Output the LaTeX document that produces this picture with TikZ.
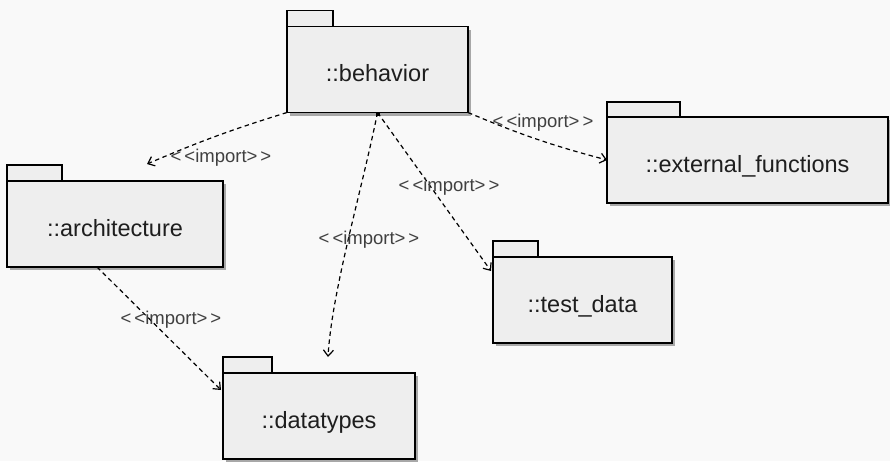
\documentclass[tikz,border=0pt]{standalone}
\usepackage{fontspec}
\setmainfont{Liberation Sans}
\usetikzlibrary{arrows.meta,shadows}
\definecolor{canvas}{HTML}{F9F9F9}
\definecolor{pkgfill}{HTML}{EEEEEE}
\definecolor{shade}{HTML}{A8A8A8}
\definecolor{ink}{HTML}{1E1E1E}
\begin{document}
\begin{tikzpicture}[x=1pt,y=-1pt,
  pkgbody/.style={draw=black, line width=1.6pt, fill=pkgfill, outer sep=0pt,
    drop shadow={shadow xshift=3pt, shadow yshift=-3pt, fill=shade, opacity=1},
    inner sep=0pt, minimum height=86pt, text height=24pt, text depth=0pt,
    font=\fontsize{23.5}{28}\selectfont, text=ink},
  pkgtab/.style={draw=black, line width=1.6pt, fill=pkgfill, outer sep=0pt,
    inner sep=0pt, minimum height=16pt, anchor=south west},
  dep/.style={line width=1.2pt, dash pattern=on 4.5pt off 3.5pt,
    -{Straight Barb[length=6pt,width=10pt]}},
  stereo/.style={font=\fontsize{18.5}{20}\selectfont, text=black!75, inner sep=0pt}]

% canvas
\fill[canvas] (0,0) rectangle (890,461);
\useasboundingbox (0,0) rectangle (890,461);

% packages
\node[pkgbody, minimum width=181pt] (beh) at (377.5,69.5) {::behavior};
\node[pkgtab, minimum width=46pt] (behtab) at (beh.north west) {};

\node[pkgbody, minimum width=216pt] (arch) at (115,224) {::architecture};
\node[pkgtab, minimum width=55pt] (archtab) at (arch.north west) {};

\node[pkgbody, minimum width=281pt] (ext) at (747.5,160) {::external\_functions};
\node[pkgtab, minimum width=73pt, minimum height=15pt] (exttab) at (ext.north west) {};

\node[pkgbody, minimum width=179pt] (test) at (582.5,300) {::test\_data};
\node[pkgtab, minimum width=45pt] (testtab) at (test.north west) {};

\node[pkgbody, minimum width=192pt] (dat) at (319,416) {::datatypes};
\node[pkgtab, minimum width=49pt] (dattab) at (dat.north west) {};

% connection handle on behavior
\fill ([yshift=-1.5pt]beh.south) +(-2,-2) rectangle +(2,2);

% free ends of the dependencies
\coordinate (archin) at ([xshift=32pt,yshift=17pt]arch.north);
\coordinate (datin) at ([xshift=9pt,yshift=16pt]dat.north);
\coordinate (testin) at ([xshift=-2pt,yshift=-14pt]test.north west);
\coordinate (archout) at ([xshift=-18pt]arch.south);
\coordinate (datleft) at ([xshift=-2pt,yshift=26pt]dat.west);

% import dependencies
\draw[dep] (beh.south west) to[bend right=3] (archin);
\draw[dep] (beh.south east) to[bend right=4] (ext.west);
\draw[dep] (beh.south) -- (testin);
\draw[dep] (beh.south) .. controls (362,190) and (332,290) .. (datin);
\draw[dep] (archout) -- (datleft);

% stereotypes
\node[stereo] (l1) at (221,158) {<\kern3pt<import>\kern3pt>};
\node[stereo] (l2) at (543,123) {<\kern3pt<import>\kern3pt>};
\node[stereo] (l3) at (449,187) {<\kern3pt<import>\kern3pt>};
\node[stereo] (l4) at (369,240) {<\kern3pt<import>\kern3pt>};
\node[stereo] (l5) at (171,320) {<\kern3pt<import>\kern3pt>};
\end{tikzpicture}
\end{document}
